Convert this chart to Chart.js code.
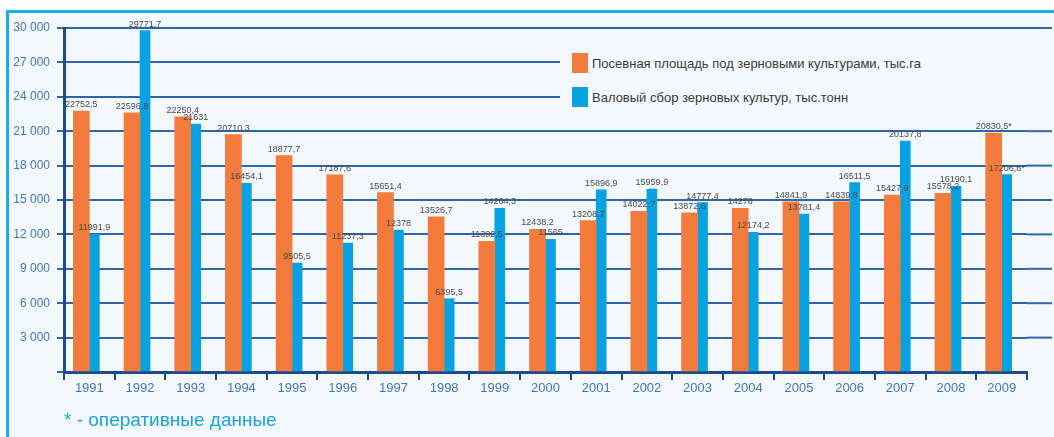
<!DOCTYPE html>
<html lang="ru">
<head>
<meta charset="utf-8">
<title>Зерновые культуры 1991–2009</title>
<script src="https://cdn.jsdelivr.net/npm/chart.js@4.4.1/dist/chart.umd.min.js"></script>
<style>
  html, body { margin: 0; padding: 0; background: #fff; }
  body { width: 1054px; height: 437px; overflow: hidden; position: relative;
         font-family: 'Liberation Sans', Arial, sans-serif; }
  #panel { position: absolute; left: 6px; top: 10px; width: 1070px; height: 450px;
           border-left: 3px solid #14aee9; border-top: 3px solid #14aee9; background: #f3f8fc; }
  #wrap { position: absolute; left: 0; top: 0; width: 1054px; height: 437px; }
  #legend { position: absolute; left: 560px; top: 42px; width: 494px; height: 76px; background: #f3f8fc; }
  .item { position: absolute; left: 12px; height: 20px; display: flex; align-items: center;
          font-size: 13px; color: #3a3a3a; white-space: nowrap; }
  .swatch { width: 16px; height: 20px; margin-right: 4px; }
  #note { position: absolute; left: 64px; top: 409px; font-size: 19px; color: #1aa3e2;
          font-family: 'Liberation Sans Narrow', 'Liberation Sans', Arial, sans-serif; }
</style>
</head>
<body>
<div id="panel"></div>
<div id="wrap"><canvas id="grainChart" width="1054" height="437"></canvas></div>
<div id="legend"></div>
<div id="note">* - оперативные данные</div>

<script>
'use strict';

// годы
const YEARS = ['1991', '1992', '1993', '1994', '1995', '1996', '1997', '1998', '1999', '2000',
               '2001', '2002', '2003', '2004', '2005', '2006', '2007', '2008', '2009'];

// посевная площадь, тыс. га
const AREA = [22752.5, 22596.8, 22250.4, 20710.3, 18877.7, 17187.6, 15651.4, 13526.7, 11392.5, 12438.2,
              13208.7, 14022.7, 13872.6, 14278, 14841.9, 14839.8, 15427.9, 15578.2, 20830.5];

// валовый сбор, тыс. тонн
const HARVEST = [11991.9, 29771.7, 21631, 16454.1, 9505.5, 11237.3, 12378, 6395.5, 14264.3, 11565,
                 15896.9, 15959.9, 14777.4, 12174.2, 13781.4, 16511.5, 20137.8, 16190.1, 17206.6];

// оперативные данные (помечаются звёздочкой)
const PROVISIONAL = ['2009'];

const Y_TICKS = [0, 3000, 6000, 9000, 12000, 15000, 18000, 21000, 24000, 27000, 30000];

const SERIES_LABELS = [
  'Посевная площадь под зерновыми культурами, тыс.га',
  'Валовый сбор зерновых культур, тыс.тонн'
];

const C_ORANGE = '#f37b3b';
const C_BLUE   = '#08a2e2';
const C_GRID   = '#3065aa';
const C_AXIS   = '#1c4b8f';
const C_TICK   = '#4576b4';
const NARROW   = "'Liberation Sans Narrow', 'Liberation Sans', Arial, sans-serif";

// ─── легенда (html, поверх сетки) ─────────────────────────────────────────
const legendEl = document.getElementById('legend');
[C_ORANGE, C_BLUE].forEach((c, i) => {
  const it = document.createElement('div');
  it.className = 'item';
  it.style.top = (11 + i * 34) + 'px';
  it.innerHTML = `<span class="swatch" style="background:${c}"></span><span>${SERIES_LABELS[i]}</span>`;
  legendEl.appendChild(it);
});

// ─── формат чисел ─────────────────────────────────────────────────────────
function fmtThousands(v) {
  return String(v).replace(/\B(?=(\d{3})+(?!\d))/g, ' ');
}
function fmtValue(v, year) {
  const s = String(v).replace('.', ',');
  return PROVISIONAL.includes(year) ? s + '*' : s;
}

// горизонтальные линии сетки тянутся до правого края рамки
const gridExtend = {
  id: 'gridExtend',
  beforeDatasetsDraw(chart) {
    const { ctx, chartArea, scales } = chart;
    ctx.save();
    ctx.strokeStyle = C_GRID;
    ctx.lineWidth = 2;
    scales.y.ticks.forEach(t => {
      if (t.value === 0) return;
      const y = scales.y.getPixelForValue(t.value);
      ctx.beginPath();
      ctx.moveTo(chartArea.right, y);
      ctx.lineTo(chart.width - 2, y);
      ctx.stroke();
    });
    ctx.restore();
  }
};

// подписи значений над столбцами
const valueLabels = {
  id: 'valueLabels',
  afterDatasetsDraw(chart) {
    const { ctx } = chart;
    ctx.save();
    ctx.font = '9px ' + NARROW;
    ctx.fillStyle = '#4a4a4a';
    ctx.textAlign = 'center';
    ctx.textBaseline = 'bottom';
    chart.data.datasets.forEach((ds, di) => {
      chart.getDatasetMeta(di).data.forEach((bar, i) => {
        ctx.fillText(fmtValue(ds.data[i], YEARS[i]), bar.x, bar.y - 2);
      });
    });
    ctx.restore();
  }
};

new Chart(document.getElementById('grainChart'), {
  type: 'bar',
  data: {
    labels: YEARS,
    datasets: [
      { label: SERIES_LABELS[0], data: AREA,    backgroundColor: C_ORANGE, barThickness: 16 },
      { label: SERIES_LABELS[1], data: HARVEST, backgroundColor: C_BLUE,   barThickness: 10 }
    ]
  },
  options: {
    responsive: false,
    animation: false,
    layout: { padding: { top: 28, right: 27, left: 0, bottom: 0 } },
    plugins: { legend: { display: false }, tooltip: { enabled: false } },
    scales: {
      x: {
        afterFit: s => { s.height = 65; },
        grid: { drawOnChartArea: false, drawTicks: true, tickLength: 8, color: C_AXIS, lineWidth: 2 },
        border: { display: true, color: C_AXIS, width: 3 },
        ticks: { color: C_TICK, padding: 1, font: { size: 13, family: NARROW } }
      },
      y: {
        min: 0,
        max: 30000,
        afterFit: s => { s.width = 64; },
        afterBuildTicks: s => { s.ticks = Y_TICKS.map(v => ({ value: v })); },
        grid: { color: C_GRID, lineWidth: 2, tickLength: 7, drawTicks: true },
        border: { display: true, color: C_AXIS, width: 3 },
        ticks: {
          color: C_TICK,
          padding: 7,
          font: { size: 12, family: NARROW },
          callback: v => v === 0 ? '' : fmtThousands(v)
        }
      }
    }
  },
  plugins: [gridExtend, valueLabels]
});
</script>
</body>
</html>
